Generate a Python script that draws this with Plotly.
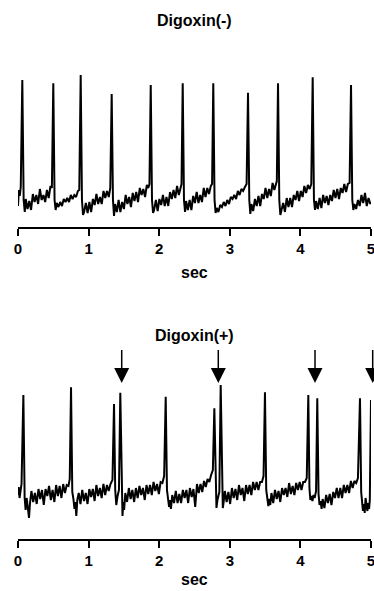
import plotly.graph_objects as go

# ---------------- data ----------------
tick_vals = [0, 1, 2, 3, 4, 5]
tick_labels = ["0", "1", "2", "3", "4", "5"]
titles = ["Digoxin(-)", "Digoxin(+)"]
x_title = "sec"
arrow_times = [1.469, 2.837, 4.207, 5.024]   # extra beats marked in Digoxin(+)

# Digoxin(-) trace: (sec, mV)
top_trace = [
    (0.000, -0.06), (0.012, 0.10), (0.025, 0.04), (0.039, 0.13), (0.061, 1.20), (0.080, 0.00), (0.096, -0.12),
    (0.110, 0.01), (0.135, -0.09), (0.160, -0.01), (0.185, -0.10), (0.210, 0.06), (0.235, -0.02), (0.260, 0.05),
    (0.285, -0.04), (0.310, 0.11), (0.335, 0.00), (0.360, 0.05), (0.385, -0.02), (0.410, 0.10), (0.435, 0.02),
    (0.460, 0.14), (0.480, 0.12), (0.500, 1.167), (0.518, 0.00), (0.533, -0.10),
    (0.548, -0.03), (0.573, -0.07), (0.598, -0.02), (0.623, -0.06), (0.648, 0.01), (0.673, -0.02), (0.698, 0.02),
    (0.723, -0.02), (0.748, 0.05), (0.773, 0.01), (0.798, 0.05), (0.823, 0.03), (0.848, 0.09), (0.868, 0.10),
    (0.888, 1.25), (0.906, 0.00), (0.921, -0.15),
    (0.936, -0.12), (0.961, -0.03), (0.986, -0.13), (1.011, -0.02), (1.036, -0.12), (1.061, 0.01), (1.086, -0.05),
    (1.111, 0.06), (1.136, -0.04), (1.161, 0.03), (1.186, -0.04), (1.211, 0.09), (1.236, 0.02), (1.261, 0.09),
    (1.286, 0.03), (1.307, 0.12), (1.327, 1.06), (1.345, 0.00), (1.360, -0.16),
    (1.375, -0.04), (1.400, -0.12), (1.425, 0.00), (1.450, -0.12), (1.475, -0.02), (1.500, -0.09), (1.525, 0.05),
    (1.550, -0.04), (1.575, 0.03), (1.600, -0.07), (1.625, 0.07), (1.650, -0.01), (1.675, 0.08), (1.700, -0.02),
    (1.725, 0.12), (1.750, 0.05), (1.775, 0.11), (1.800, 0.03), (1.825, 0.15), (1.845, 0.12), (1.862, 0.16),
    (1.880, 1.15), (1.898, 0.00), (1.913, -0.13),
    (1.928, -0.10), (1.953, 0.00), (1.978, -0.11), (2.003, 0.01), (2.028, -0.05), (2.053, 0.05), (2.078, -0.06),
    (2.103, 0.03), (2.128, -0.06), (2.153, 0.08), (2.178, 0.01), (2.203, 0.10), (2.228, 0.02), (2.253, 0.14),
    (2.278, 0.05), (2.300, 0.13), (2.316, 0.16), (2.333, 1.167), (2.351, 0.00), (2.366, -0.12),
    (2.381, -0.01), (2.406, -0.10), (2.431, 0.00), (2.456, -0.10), (2.481, 0.04), (2.506, -0.03), (2.531, 0.08),
    (2.556, -0.03), (2.581, 0.05), (2.606, -0.02), (2.631, 0.12), (2.656, 0.03), (2.681, 0.12), (2.706, 0.06),
    (2.731, 0.14), (2.749, 0.16), (2.766, 1.167), (2.784, 0.00), (2.799, -0.13),
    (2.814, -0.08), (2.839, -0.12), (2.864, -0.05), (2.889, -0.07), (2.914, -0.02), (2.939, -0.06), (2.964, 0.00),
    (2.989, -0.04), (3.014, 0.03), (3.039, 0.01), (3.064, 0.05), (3.089, 0.01), (3.114, 0.09), (3.139, 0.05),
    (3.164, 0.11), (3.189, 0.09), (3.214, 0.13), (3.238, 0.16), (3.258, 1.073), (3.276, 0.00), (3.291, -0.14),
    (3.306, -0.04), (3.331, -0.11), (3.356, 0.01), (3.381, -0.06), (3.406, 0.04), (3.431, -0.06), (3.456, 0.06),
    (3.481, 0.01), (3.506, 0.12), (3.531, 0.02), (3.556, 0.11), (3.581, 0.04), (3.606, 0.17), (3.631, 0.10),
    (3.650, 0.17), (3.666, 0.19), (3.683, 1.167), (3.701, 0.00), (3.716, -0.15),
    (3.731, -0.11), (3.756, -0.03), (3.781, -0.12), (3.806, 0.02), (3.831, -0.07), (3.856, 0.02), (3.881, -0.07),
    (3.906, 0.05), (3.931, 0.00), (3.956, 0.09), (3.981, -0.01), (4.006, 0.09), (4.031, 0.03), (4.056, 0.14),
    (4.081, 0.07), (4.106, 0.15), (4.131, 0.11), (4.154, 0.16), (4.174, 1.227), (4.192, 0.00), (4.207, -0.10),
    (4.222, -0.01), (4.247, -0.09), (4.272, 0.02), (4.297, -0.08), (4.322, 0.05), (4.347, -0.03), (4.372, 0.04),
    (4.397, -0.05), (4.422, 0.05), (4.447, -0.01), (4.472, 0.10), (4.497, 0.02), (4.522, 0.11), (4.547, 0.01),
    (4.572, 0.12), (4.597, 0.07), (4.622, 0.16), (4.647, 0.08), (4.672, 0.16), (4.697, 0.17), (4.717, 1.15),
    (4.735, 0.00), (4.750, -0.10),
    (4.765, -0.04), (4.790, -0.09), (4.815, 0.00), (4.840, -0.06), (4.865, 0.05), (4.890, -0.03), (4.915, 0.07),
    (4.940, -0.06), (4.965, 0.02), (4.990, -0.04), (5.000, -0.02),
]

# Digoxin(+) trace: (sec, mV)
bottom_trace = [
    (0.000, 0.05), (0.010, 0.13), (0.022, 0.02), (0.035, 0.12), (0.050, 0.16), (0.076, 1.05), (0.094, 0.02),
    (0.108, -0.10), (0.122, 0.02), (0.140, -0.08), (0.156, -0.18), (0.170, -0.03),
    (0.190, 0.09), (0.215, -0.02), (0.240, 0.07), (0.265, -0.04), (0.290, 0.11), (0.315, 0.01), (0.340, 0.10),
    (0.365, -0.05), (0.390, 0.11), (0.415, 0.04), (0.440, 0.14), (0.465, 0.00), (0.490, 0.10), (0.515, -0.02),
    (0.540, 0.15), (0.565, 0.04), (0.590, 0.14), (0.615, 0.02), (0.640, 0.16), (0.665, 0.07), (0.690, 0.15),
    (0.715, 0.14), (0.733, 0.21), (0.751, 1.127), (0.769, 0.08), (0.785, 0.01), (0.800, -0.09), (0.812, -0.02),
    (0.826, -0.16), (0.840, 0.00),
    (0.860, 0.07), (0.885, -0.04), (0.910, 0.10), (0.935, -0.01), (0.960, 0.07), (0.985, -0.04), (1.010, 0.11),
    (1.035, 0.03), (1.060, 0.11), (1.085, -0.01), (1.110, 0.15), (1.135, 0.04), (1.160, 0.12), (1.185, 0.02),
    (1.210, 0.16), (1.235, 0.05), (1.260, 0.15), (1.285, 0.09), (1.310, 0.16), (1.338, 0.20), (1.360, 0.96),
    (1.377, 0.10), (1.392, -0.05), (1.408, 0.03), (1.430, 0.10), (1.449, 1.073), (1.466, 0.05), (1.480, -0.16),
    (1.492, -0.02), (1.503, -0.10),
    (1.520, 0.07), (1.545, -0.02), (1.570, 0.12), (1.595, 0.01), (1.620, 0.10), (1.645, -0.02), (1.670, 0.12),
    (1.695, 0.02), (1.720, 0.14), (1.745, 0.05), (1.770, 0.12), (1.795, 0.00), (1.820, 0.15), (1.845, 0.06),
    (1.870, 0.15), (1.895, 0.05), (1.920, 0.18), (1.945, 0.09), (1.970, 0.16), (1.995, 0.06), (2.020, 0.18),
    (2.045, 0.17), (2.070, 0.24), (2.092, 1.033), (2.110, 0.10), (2.125, 0.03), (2.140, -0.07), (2.153, 0.00),
    (2.166, -0.09),
    (2.185, 0.05), (2.210, -0.03), (2.235, 0.09), (2.260, -0.03), (2.285, 0.06), (2.310, -0.03), (2.335, 0.10),
    (2.360, 0.02), (2.385, 0.10), (2.410, -0.03), (2.435, 0.12), (2.460, 0.03), (2.485, 0.11), (2.510, -0.07),
    (2.535, 0.16), (2.560, 0.07), (2.585, 0.16), (2.610, 0.08), (2.635, 0.19), (2.660, 0.13), (2.685, 0.21),
    (2.710, 0.18), (2.735, 0.25), (2.760, 0.30), (2.781, 0.917), (2.797, 0.10), (2.811, -0.08), (2.825, 0.00),
    (2.852, 0.08), (2.871, 1.15), (2.889, 0.10), (2.901, -0.08), (2.913, -0.02),
    (2.930, 0.09), (2.955, -0.02), (2.980, 0.08), (3.005, -0.04), (3.030, 0.12), (3.055, 0.02), (3.080, 0.11),
    (3.105, 0.00), (3.130, 0.15), (3.155, 0.05), (3.180, 0.12), (3.205, -0.01), (3.230, 0.15), (3.255, 0.06),
    (3.280, 0.15), (3.305, 0.05), (3.330, 0.18), (3.355, 0.10), (3.380, 0.18), (3.405, 0.10), (3.430, 0.18),
    (3.455, 0.18), (3.478, 0.24), (3.498, 1.077), (3.516, 0.10), (3.531, 0.02), (3.546, -0.06), (3.560, 0.01),
    (3.573, -0.05),
    (3.590, 0.07), (3.615, -0.03), (3.640, 0.10), (3.665, 0.01), (3.690, 0.09), (3.715, -0.02), (3.740, 0.12),
    (3.765, 0.05), (3.790, 0.12), (3.815, 0.03), (3.840, 0.17), (3.865, 0.06), (3.890, 0.14), (3.915, 0.05),
    (3.940, 0.17), (3.965, 0.10), (3.990, 0.18), (4.015, 0.10), (4.040, 0.18), (4.065, 0.18), (4.090, 0.22),
    (4.112, 1.05), (4.128, 0.12), (4.141, 0.00), (4.156, 0.04), (4.171, -0.01), (4.186, 0.05), (4.202, 0.02),
    (4.222, 0.09), (4.239, 1.017), (4.257, 0.06), (4.271, -0.05), (4.286, -0.01), (4.300, -0.09),
    (4.315, 0.01), (4.340, -0.08), (4.365, 0.05), (4.390, -0.03), (4.415, 0.06), (4.440, -0.05), (4.465, 0.08),
    (4.490, 0.02), (4.515, 0.12), (4.540, 0.02), (4.565, 0.12), (4.590, 0.02), (4.615, 0.15), (4.640, 0.07),
    (4.665, 0.15), (4.690, 0.07), (4.715, 0.19), (4.740, 0.12), (4.765, 0.19), (4.790, 0.17), (4.815, 0.22),
    (4.844, 1.017), (4.861, 0.08), (4.873, -0.05), (4.886, -0.11), (4.898, -0.04), (4.911, -0.13), (4.923, 0.02),
    (4.936, -0.05), (4.949, -0.11), (4.961, -0.03), (4.973, -0.09), (4.983, 0.00), (5.000, 1.00),
]

# ---------------- layout constants ----------------
W, H = 374, 591
FONT = "Liberation Sans, Arial, Helvetica, sans-serif"
X_DOM = [18 / W, 371 / W]
X_RANGE = [0, 5]
Y1_DOM = [1 - 227 / H, 1 - 70 / H]
Y1_RANGE = [-0.27, 1.30]
Y2_DOM = [1 - 539 / H, 1 - 345 / H]
Y2_RANGE = [-0.39, 1.55]


def xp(t):
    return X_DOM[0] + (X_DOM[1] - X_DOM[0]) * (t - X_RANGE[0]) / (X_RANGE[1] - X_RANGE[0])


def yp2(v):
    return Y2_DOM[0] + (Y2_DOM[1] - Y2_DOM[0]) * (v - Y2_RANGE[0]) / (Y2_RANGE[1] - Y2_RANGE[0])


fig = go.Figure()
fig.add_trace(go.Scatter(x=[p[0] for p in top_trace], y=[p[1] for p in top_trace],
                         mode="lines", line=dict(color="black", width=2),
                         xaxis="x", yaxis="y", showlegend=False, hoverinfo="skip"))
fig.add_trace(go.Scatter(x=[p[0] for p in bottom_trace], y=[p[1] for p in bottom_trace],
                         mode="lines", line=dict(color="black", width=2),
                         xaxis="x2", yaxis="y2", showlegend=False, hoverinfo="skip"))

xax = dict(range=X_RANGE, domain=X_DOM, tickvals=tick_vals, ticktext=tick_labels,
           ticks="outside", ticklen=7, tickwidth=2, tickcolor="black",
           showline=True, linewidth=2, linecolor="black", showgrid=False, zeroline=False,
           automargin=False, ticklabeloverflow="allow",
           tickfont=dict(family=FONT, size=15, color="black", weight="bold"), fixedrange=True)
yax = dict(visible=False, showgrid=False, zeroline=False, fixedrange=True, automargin=False)

fig.update_layout(
    template="none",
    width=W, height=H, margin=dict(l=0, r=0, t=0, b=0, autoexpand=False),
    paper_bgcolor="white", plot_bgcolor="white",
    xaxis=dict(**xax, anchor="y"),
    yaxis=dict(**yax, domain=Y1_DOM, range=Y1_RANGE, anchor="x"),
    xaxis2=dict(**xax, anchor="y2"),
    yaxis2=dict(**yax, domain=Y2_DOM, range=Y2_RANGE, anchor="x2"),
)

tfont = dict(family=FONT, size=16, color="black", weight="bold")
for text, ypix in [(titles[0], 20), (titles[1], 335)]:
    fig.add_annotation(text=text, x=194.5 / W, y=1 - ypix / H, xref="paper", yref="paper",
                       xanchor="center", yanchor="middle", showarrow=False, font=tfont)
for ypix in [273, 579]:
    fig.add_annotation(text=x_title, x=194.5 / W, y=1 - ypix / H, xref="paper", yref="paper",
                       xanchor="center", yanchor="middle", showarrow=False, font=tfont)

# arrows marking extra beats (Digoxin(+))
half_w = 7.5 / W
for t in arrow_times:
    xc = xp(t)
    fig.add_shape(type="line", xref="paper", yref="paper", x0=xc, x1=xc,
                  y0=yp2(1.50), y1=yp2(1.30), line=dict(color="black", width=1.5))
    fig.add_shape(type="path", xref="paper", yref="paper",
                  path=f"M {xc - half_w},{yp2(1.32)} L {xc + half_w},{yp2(1.32)} L {xc},{yp2(1.17)} Z",
                  fillcolor="black", line=dict(color="black", width=0))

fig.write_html("out.html", config={"displayModeBar": False, "staticPlot": True},
               post_script="document.body.style.margin='0';document.body.style.overflow='hidden';")
